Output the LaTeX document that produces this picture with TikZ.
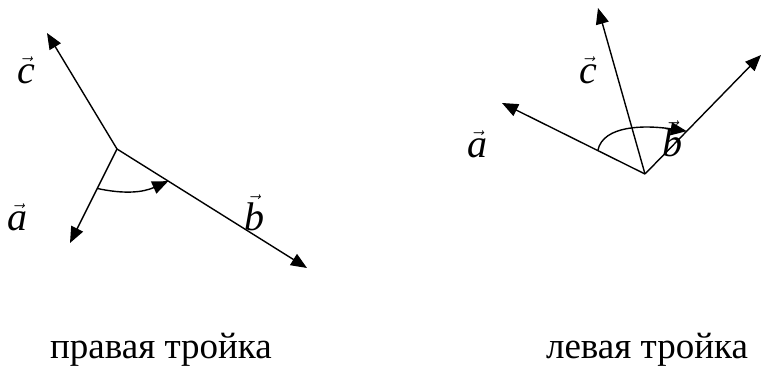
\documentclass[tikz,border=0pt]{standalone}
\usepackage{fontspec}
\setmainfont{Liberation Serif}
\usetikzlibrary{arrows.meta, calc}
\newcommand{\vlab}[1]{$\vec{\textit{#1}}$}
\tikzset{
    vecarr/.style={-{Triangle[length=16pt, width=13pt]}, line width=1.4pt},
    turnarr/.style={-{Triangle[length=16pt, width=13pt]}, line width=1.4pt},
    veclbl/.style={font=\fontsize{40}{44}\selectfont, inner sep=0pt, anchor=base},
    caption/.style={font=\fontsize{37}{42}\selectfont, inner sep=0pt, anchor=base}
}
\begin{document}
\begin{tikzpicture}[x=1pt, y=1pt]
        \useasboundingbox (0,0) rectangle (763,365);
        % right-handed triple
        \coordinate (oR) at (117,216);
        \coordinate (aR) at (70,122);
        \coordinate (bR) at (307,97);
        \coordinate (cR) at (47,332);
        \coordinate (aRs) at ($(oR)!0.42!(aR)$);
        \coordinate (bRs) at ($(oR)!0.27!(bR)$);
        \draw[vecarr] (oR) -- (aR);
        \draw[vecarr] (oR) -- (bR);
        \draw[vecarr] (oR) -- (cR);
        \draw[turnarr] (aRs) to[bend right=18] (bRs);
        \node[veclbl] (laR) at (18,135) {\vlab{a}};
        \node[veclbl] (lbR) at (254,135) {\vlab{b}};
        \node[veclbl] (lcR) at (26,282) {\vlab{c}};
        \node[caption] (capR) at (161,7) {правая тройка};
        % left-handed triple
        \coordinate (oL) at (645,191);
        \coordinate (aL) at (502,262);
        \coordinate (bL) at (761,310);
        \coordinate (cL) at (598,357);
        \coordinate (aLs) at ($(oL)!0.33!(aL)$);
        \coordinate (bLs) at ($(oL)!0.36!(bL)$);
        \draw[vecarr] (oL) -- (aL);
        \draw[vecarr] (oL) -- (bL);
        \draw[vecarr] (oL) -- (cL);
        \draw[turnarr] (aLs) .. controls (603,240) and (645,240) .. (bLs);
        \node[veclbl] (laL) at (477,208) {\vlab{a}};
        \node[veclbl] (lbL) at (672,209) {\vlab{b}};
        \node[veclbl] (lcL) at (588,282) {\vlab{c}};
        \node[caption] (capL) at (647,7) {левая тройка};
\end{tikzpicture}
\end{document}
